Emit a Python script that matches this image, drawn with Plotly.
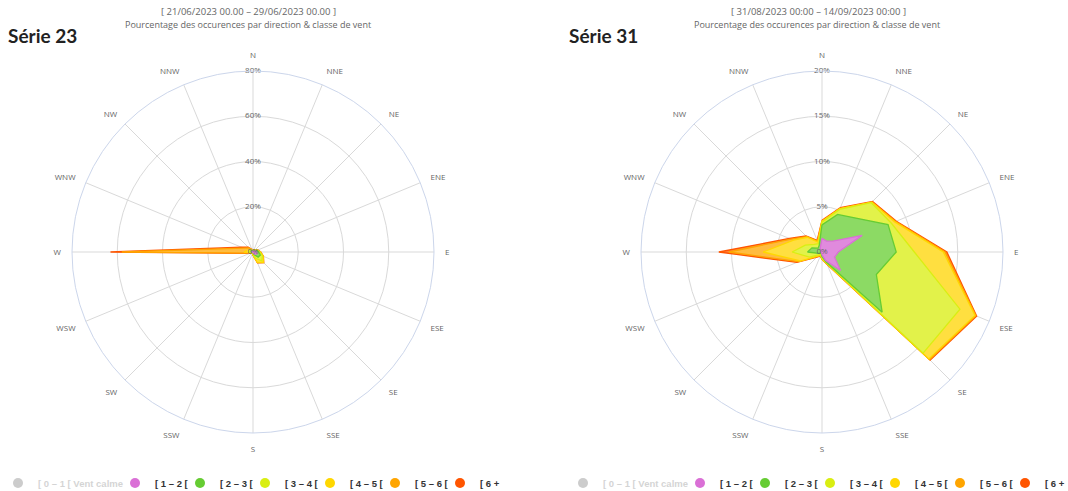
import numpy as np
import plotly.graph_objects as go

# Roses des vents : pourcentage des occurrences par direction & classe de vent
directions = ['N', 'NNE', 'NE', 'ENE', 'E', 'ESE', 'SE', 'SSE',
              'S', 'SSW', 'SW', 'WSW', 'W', 'WNW', 'NW', 'NNW']
classes = ['[ 0 – 1 [ Vent calme', '[ 1 – 2 [', '[ 2 – 3 [', '[ 3 – 4 [',
           '[ 4 – 5 [', '[ 5 – 6 [', '[ 6 +']

# Série 23 (valeurs par classe, en %)
s23_calm = [0, 0, 0, 0, 0, 0, 0, 0, 0, 0, 0, 0, 0, 0, 0, 0]
s23_1_2 = [0.3, 0.3, 0.6, 1.2, 1.5, 2.0, 1.5, 0.6, 0.2, 0.1, 0.1, 0.1, 0.3, 0.5, 0.5, 0.3]
s23_2_3 = [0.3, 0.2, 0.2, 0.6, 1.0, 1.5, 1.7, 0.6, 0.2, 0.1, 0.1, 0.2, 0.5, 0.5, 0.5, 0.3]
s23_3_4 = [0.1, 0.1, 0.2, 0.2, 0.5, 1.0, 2.3, 1.8, 0.4, 0.1, 0.1, 0.2, 0.7, 0.4, 0.2, 0.2]
s23_4_5 = [0.1, 0.1, 0.1, 0.1, 0.2, 0.3, 1.0, 2.0, 0.4, 0.1, 0.1, 0.2, 2.5, 1.1, 0.3, 0.1]
s23_5_6 = [0.1, 0.1, 0.1, 0.1, 0.1, 0.1, 0.1, 0.1, 0.1, 0.1, 0.1, 0.5, 54.0, 2.0, 1.0, 0.1]
s23_6p = [0.1, 0.1, 0.1, 0.1, 0.1, 0.1, 0.1, 0.1, 0.1, 0.1, 0.1, 0.4, 5.0, 1.0, 0.5, 0.2]

# Série 31
s31_calm = [0, 0, 0, 0, 0, 0, 0, 0, 0, 0, 0, 0, 0, 0, 0, 0]
s31_1_2 = [1.5, 1.3, 1.7, 4.8, 1.8, 1.5, 2.9, 1.0, 0.3, 0.1, 0.1, 0.1, 0.1, 0.1, 0.2, 0.5]
s31_2_3 = [1.5, 3.2, 3.6, 3.1, 6.4, 5.0, 6.5, 0.2, 0.2, 0.1, 0.1, 0.3, 1.5, 1.1, 0.4, 0.3]
s31_3_4 = [0.3, 0.6, 2.4, 0.4, 2.0, 10.0, 6.4, 0.1, 0.2, 0.1, 0.2, 1.1, 1.7, 0.8, 0.6, 0.2]
s31_4_5 = [0.1, 0.1, 0.1, 0.4, 3.2, 1.8, 0.9, 0.1, 0.1, 0.1, 0.2, 1.1, 3.2, 1.4, 1.1, 0.2]
s31_5_6 = [0.0, 0.0, 0.0, 0.1, 0.2, 0.1, 0.1, 0.0, 0.0, 0.0, 0.1, 0.2, 3.8, 0.3, 0.1, 0.1]
s31_6p = [0.1, 0.1, 0.1, 0.1, 0.2, 0.1, 0.1, 0.1, 0.0, 0.1, 0.1, 0.2, 1.1, 0.2, 0.1, 0.1]

s23_ticks = [0, 20, 40, 60, 80]
s31_ticks = [0, 5, 10, 15, 20]

colors = ['#cccccc', '#da70d6', '#66cc33', '#d9ee12', '#ffd700', '#ffa500', '#ff5500']
fills = ['#e6e6e6', 'rgb(224,138,221)', 'rgb(140,218,100)', 'rgb(226,242,74)',
         'rgb(255,223,64)', 'rgb(255,188,64)', 'rgb(255,128,64)']

panels = [
    dict(subplot='polar', legend='legend', ticks=s23_ticks,
         series=[s23_calm, s23_1_2, s23_2_3, s23_3_4, s23_4_5, s23_5_6, s23_6p]),
    dict(subplot='polar2', legend='legend2', ticks=s31_ticks,
         series=[s31_calm, s31_1_2, s31_2_3, s31_3_4, s31_4_5, s31_5_6, s31_6p]),
]

fig = go.Figure()
theta_closed = directions + directions[:1]

for p in panels:
    # le vent calme est masqué (série désactivée), on empile les autres classes
    stack = np.cumsum(np.array(p['series'][1:], dtype=float), axis=0)
    for i in range(len(stack) - 1, -1, -1):
        r = list(stack[i]) + [stack[i][0]]
        fig.add_trace(go.Scatterpolar(
            r=r, theta=theta_closed, mode='lines', fill='toself',
            fillcolor=fills[i + 1], line=dict(color=colors[i + 1], width=1.3),
            subplot=p['subplot'], showlegend=False, hoverinfo='skip'))

    # entrées de légende (ronds)
    for k, name in enumerate(classes):
        label = name
        if k == 0:
            label = '<span style="color:#aaaaaa">' + name + '</span>'
        fig.add_trace(go.Scatterpolar(
            r=[None], theta=[None], mode='markers', name=label,
            marker=dict(color='#999999' if k == 0 else colors[k], size=10),
            visible='legendonly' if k == 0 else True,
            legend=p['legend'], legendwidth=72 if k == 0 else 20,
            subplot=p['subplot']))

    # étiquettes de l'axe radial, le long de l'axe N
    fig.add_trace(go.Scatterpolar(
        r=p['ticks'], theta=['N'] * len(p['ticks']), mode='text',
        text=[f'{t}%' for t in p['ticks']],
        textfont=dict(family='Open Sans', size=8, color='#666666'),
        cliponaxis=False, showlegend=False, hoverinfo='skip',
        subplot=p['subplot']))


def polar_layout(x0, x1, rmax, dtick):
    return dict(
        domain=dict(x=[x0 / 1068, x1 / 1068], y=[1 - 433 / 491, 1 - 71 / 491]),
        bgcolor='white',
        angularaxis=dict(direction='clockwise', rotation=90, type='category',
                         categoryarray=directions, showline=True,
                         linecolor='#ccd6eb', linewidth=1, gridcolor='#d9d9d9',
                         ticks='outside', ticklen=9, tickcolor='rgba(0,0,0,0)',
                         tickfont=dict(family='Open Sans', size=8, color='#666666')),
        radialaxis=dict(range=[0, rmax], dtick=dtick, showticklabels=False,
                        ticks='', showline=False, gridcolor='#d9d9d9'),
    )


legend_style = dict(orientation='h', xanchor='left', yanchor='middle',
                    y=1 - 483 / 491, bgcolor='rgba(0,0,0,0)', itemwidth=30,
                    font=dict(family='Liberation Sans', size=9.5, color='#333333',
                              weight='bold'))

title_font = dict(family='Lato', size=19, color='#222222', weight='bold')
sub_font = dict(family='Open Sans', size=9, color='#666666')
date_font = dict(family='Open Sans', size=9.5, color='#666666')

fig.update_layout(
    width=1068, height=491,
    margin=dict(l=0, r=0, t=0, b=0, autoexpand=False),
    paper_bgcolor='white', plot_bgcolor='white',
    polar=polar_layout(72, 434, 80, 20),
    polar2=polar_layout(641, 1003, 20, 5),
    legend=dict(legend_style, x=-2 / 1068),
    legend2=dict(legend_style, x=563 / 1068),
    annotations=[
        dict(text='Série 23', x=6 / 1068, y=1 - 35 / 491, xref='paper', yref='paper',
             xanchor='left', yanchor='middle', showarrow=False, font=title_font),
        dict(text='Série 31', x=567 / 1068, y=1 - 35 / 491, xref='paper', yref='paper',
             xanchor='left', yanchor='middle', showarrow=False, font=title_font),
        dict(text='[ 21/06/2023 00.00 – 29/06/2023 00.00 ]', x=248 / 1068, y=1 - 12 / 491,
             xref='paper', yref='paper', xanchor='center', yanchor='middle',
             showarrow=False, font=date_font),
        dict(text='Pourcentage des occurences par direction & classe de vent', x=248 / 1068,
             y=1 - 24 / 491, xref='paper', yref='paper', xanchor='center', yanchor='middle',
             showarrow=False, font=sub_font),
        dict(text='[ 31/08/2023 00:00 – 14/09/2023 00:00 ]', x=818 / 1068, y=1 - 12 / 491,
             xref='paper', yref='paper', xanchor='center', yanchor='middle',
             showarrow=False, font=date_font),
        dict(text='Pourcentage des occurences par direction & classe de vent', x=817 / 1068,
             y=1 - 24 / 491, xref='paper', yref='paper', xanchor='center', yanchor='middle',
             showarrow=False, font=sub_font),
    ],
)

fig.write_html('out.html', config={'displayModeBar': False},
               post_script="document.body.style.margin='0px';")
